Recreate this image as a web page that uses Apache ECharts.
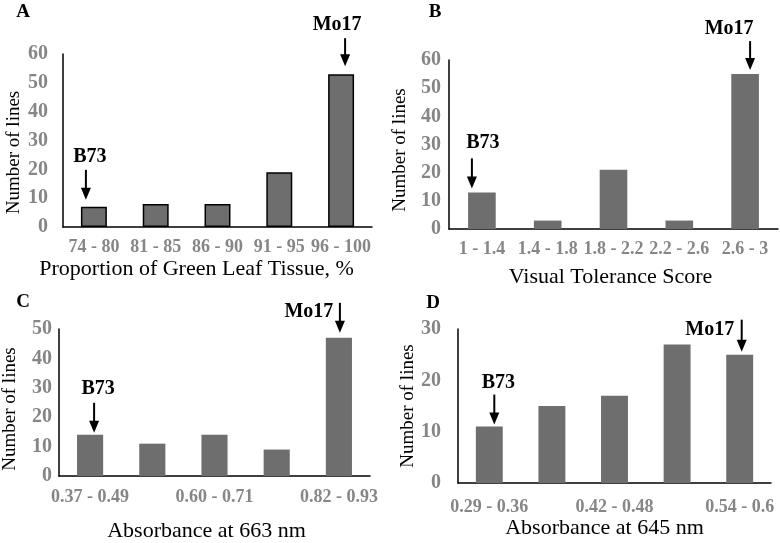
<!DOCTYPE html>
<html><head><meta charset="utf-8">
<script src="https://cdn.jsdelivr.net/npm/echarts@6/dist/echarts.min.js"></script>
<style>html,body{margin:0;padding:0;background:#fff}#c{width:780px;height:543px}</style>
</head><body><div id="c"></div>
<script>
// ---- data ----
const catsA = ['74 - 80', '81 - 85', '86 - 90', '91 - 95', '96 - 100'];
const valsA = [7, 8, 8, 19, 53];
const catsB = ['1 - 1.4', '1.4 - 1.8', '1.8 - 2.2', '2.2 - 2.6', '2.6 - 3'];
const valsB = [13, 3, 21, 3, 55];
const catsC = ['0.37 - 0.49', '0.49 - 0.60', '0.60 - 0.71', '0.71 - 0.82', '0.82 - 0.93'];
const valsC = [14, 11, 14, 9, 47];
const catsD = ['0.29 - 0.36', '0.36 - 0.42', '0.42 - 0.48', '0.48 - 0.54', '0.54 - 0.6'];
const valsD = [11, 15, 17, 27, 25];
const xTitles = ['Proportion of Green Leaf Tissue, %', 'Visual Tolerance Score', 'Absorbance at 663 nm', 'Absorbance at 645 nm'];
const yTitle = 'Number of lines';
const yMax = [60, 60, 50, 30];
const panelLetters = ['A', 'B', 'C', 'D'];
const annotations = [
  // panel, category index, label
  {p: 0, i: 0, t: 'B73'}, {p: 0, i: 4, t: 'Mo17'},
  {p: 1, i: 0, t: 'B73'}, {p: 1, i: 4, t: 'Mo17'},
  {p: 2, i: 0, t: 'B73'}, {p: 2, i: 4, t: 'Mo17'},
  {p: 3, i: 0, t: 'B73'}, {p: 3, i: 4, t: 'Mo17'}
];

// ---- styles / layout ----
const FF = 'Liberation Serif';
const cats = [catsA, catsB, catsC, catsD];
const vals = [valsA, valsB, valsC, valsD];
const grids = [
  {left: 63, top: 54, right: 408, bottom: 316},
  {left: 449, top: 60, right: 2, bottom: 314},
  {left: 58, top: 329, right: 410, bottom: 61},
  {left: 458, top: 329, right: 9, bottom: 60}
];
const xNameGap = [31, 37, 44, 32];
const xNamePad = [[0, 42, 0, 0], [0, 6, 0, 0], [0, 16, 0, 0], [0, 20, 0, 0]];
const yNamePad = [[0, 24, 0, 0], [0, 11, 0, 0], [0, 13, 0, 0], [0, 0, 0, 0]];
const yLabelMargin = [15, 8, 7, 17];
const xLabelMargin = [11, 11, 12, 15];
const xLabelInterval = [0, 0, 1, 1];
const barW = ['42%', '42%', '42%', '43%'];
// annotation geometry relative to bar top (px): arrow dx, tip gap, tail gap, text dx, text dy
const annGeom = [
  [-8, 7, 37, -4, -50], [4, 8, 36, -4, -49],
  [-10, 4, 34, 1, -50], [5, 4, 33, -16, -45],
  [4, 2, 32, 8, -46], [1, 5, 35, -30, -26],
  [5, 2, 32, 9, -44], [2, 3, 35, -30, -25]
];
const letterPos = [[23, 12], [435, 12], [23, 302], [433, 303]];

const option = {
  animation: false,
  backgroundColor: '#fff',
  grid: grids,
  xAxis: cats.map((c, k) => ({
    type: 'category', gridIndex: k, data: c,
    axisLine: {lineStyle: {color: '#000', width: 1.5}},
    axisTick: {show: false},
    axisLabel: {interval: xLabelInterval[k], color: '#868686', fontWeight: 'bold', fontSize: 18, fontFamily: FF, margin: xLabelMargin[k]},
    name: xTitles[k], nameLocation: 'middle', nameGap: xNameGap[k],
    nameTextStyle: {fontSize: 22, color: '#000', fontFamily: FF, padding: xNamePad[k]}
  })),
  yAxis: cats.map((c, k) => ({
    type: 'value', gridIndex: k, min: 0, max: yMax[k], interval: 10,
    axisLine: {show: true, lineStyle: {color: '#000', width: 1.5}},
    axisTick: {show: false},
    splitLine: {show: false},
    axisLabel: {color: '#868686', fontWeight: 'bold', fontSize: 20, fontFamily: FF, margin: yLabelMargin[k]},
    name: yTitle, nameLocation: 'middle', nameGap: 39,
    nameTextStyle: {fontSize: 19, color: '#000', fontFamily: FF, padding: yNamePad[k]}
  })),
  series: vals.map((v, k) => ({
    type: 'bar', xAxisIndex: k, yAxisIndex: k, data: v, barWidth: barW[k],
    itemStyle: k === 0 ? {color: '#6e6e6e', borderColor: '#000', borderWidth: 1.5} : {color: '#6e6e6e'}
  }))
};

const chart = echarts.init(document.getElementById('c'), null, {renderer: 'canvas'});
chart.setOption(option);

const graphics = [];
panelLetters.forEach((L, k) => {
  graphics.push({type: 'text', x: letterPos[k][0], y: letterPos[k][1],
    style: {text: L, font: 'bold 19px ' + FF, fill: '#000', textAlign: 'center', textVerticalAlign: 'middle'}});
});
annotations.forEach((a, n) => {
  const pt = chart.convertToPixel({seriesIndex: a.p}, [a.i, vals[a.p][a.i]]);
  const g = annGeom[n];
  const ax = pt[0] + g[0], tip = pt[1] - g[1], tail = pt[1] - g[2];
  graphics.push({type: 'line', shape: {x1: ax, y1: tail, x2: ax, y2: tip - 10},
    style: {stroke: '#000', lineWidth: 2}});
  graphics.push({type: 'polygon', shape: {points: [[ax - 5, tip - 12], [ax + 5, tip - 12], [ax, tip]]},
    style: {fill: '#000'}});
  graphics.push({type: 'text', x: pt[0] + g[3], y: pt[1] + g[4],
    style: {text: a.t, font: 'bold 20px ' + FF, fill: '#000', textAlign: 'center', textVerticalAlign: 'middle'}});
});
chart.setOption({graphic: graphics});
</script>
</body></html>
